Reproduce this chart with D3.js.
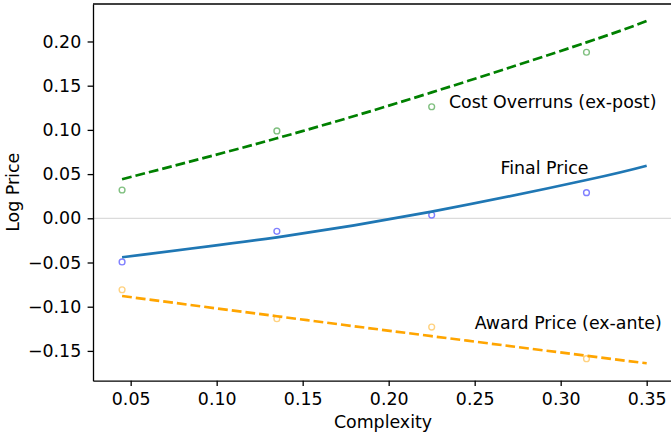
<!DOCTYPE html>
<html>
<head>
<meta charset="utf-8">
<script src="https://cdn.jsdelivr.net/npm/d3@7"></script>
<style>
  body { margin: 0; background: #fff; }
  text { font-family: "DejaVu Sans", sans-serif; }
</style>
</head>
<body>
<div id="chart"></div>
<script>
// bin means (scatter) and fitted curves
const binX = [0.045, 0.135, 0.225, 0.315];
const costPoints = [0.032, 0.0988, 0.1262, 0.1878];
const finalPoints = [-0.0494, -0.0147, 0.0037, 0.029];
const awardPoints = [-0.0808, -0.1136, -0.123, -0.1588];

const fitX = [0.045, 0.135, 0.225, 0.315, 0.35];
const costFit = [0.0442, 0.0905, 0.1424, 0.199, 0.2232];
const finalFit = [-0.0441, -0.0215, 0.0075, 0.0433, 0.0595];
const awardFit = [-0.0879, -0.1108, -0.1333, -0.1555, -0.164];

const xTicks = [0.05, 0.10, 0.15, 0.20, 0.25, 0.30, 0.35];
const yTicks = [-0.15, -0.10, -0.05, 0.00, 0.05, 0.10, 0.15, 0.20];

const labels = [
    { text: 'Cost Overruns (ex-post)', x: 0.235, y: 0.125 },
    { text: 'Final Price', x: 0.265, y: 0.05 },
    { text: 'Award Price (ex-ante)', x: 0.25, y: -0.125 }
];

const width = 671,
    height = 435;
const margin = { top: 4, right: -2, bottom: 54.3, left: 93 };
const fontSize = '17.4px';

const svg = d3.select('#chart').append('svg')
    .attr('width', width)
    .attr('height', height);

const x = d3.scaleLinear()
    .domain([0.0281, 0.3653])
    .range([margin.left, width - margin.right]);
const y = d3.scaleLinear()
    .domain([-0.1837, 0.2424])
    .range([height - margin.bottom, margin.top]);

// zero line
svg.append('line')
    .attr('x1', x.range()[0]).attr('x2', x.range()[1])
    .attr('y1', y(0)).attr('y2', y(0))
    .attr('stroke', '#d3d3d3')
    .attr('stroke-width', 1);

const series = [
    { fit: costFit, pts: costPoints, line: '#008000', dot: '#80c080', dash: '9.8,4' },
    { fit: finalFit, pts: finalPoints, line: '#1f77b4', dot: '#8080ff', dash: null },
    { fit: awardFit, pts: awardPoints, line: '#ffa500', dot: '#ffd280', dash: '9.8,4' }
];

const lineGen = d3.line()
    .x(d => x(d[0]))
    .y(d => y(d[1]))
    .curve(d3.curveNatural);

series.forEach(s => {
    svg.append('g').selectAll('circle')
        .data(binX.map((v, i) => [v, s.pts[i]]))
        .enter()
        .append('circle')
        .attr('cx', d => x(d[0]))
        .attr('cy', d => y(d[1]))
        .attr('r', 2.9)
        .attr('fill', 'none')
        .attr('stroke', s.dot)
        .attr('stroke-width', 1.4);

    svg.append('path')
        .datum(fitX.map((v, i) => [v, s.fit[i]]))
        .attr('d', lineGen)
        .attr('fill', 'none')
        .attr('stroke', s.line)
        .attr('stroke-width', 2.7)
        .attr('stroke-dasharray', s.dash);
});

svg.selectAll('.lbl')
    .data(labels)
    .enter()
    .append('text')
    .attr('class', 'lbl')
    .attr('x', d => x(d.x))
    .attr('y', d => y(d.y))
    .attr('font-size', fontSize)
    .attr('fill', '#000')
    .text(d => d.text);

const fmt = d => d3.format('.2f')(d).replace('-', '\u2212');

const xAxis = svg.append('g')
    .attr('transform', 'translate(0,' + y.range()[0] + ')')
    .call(d3.axisBottom(x).tickValues(xTicks).tickFormat(fmt).tickSize(5.4).tickPadding(6.8).tickSizeOuter(0));
const yAxis = svg.append('g')
    .attr('transform', 'translate(' + x.range()[0] + ',0)')
    .call(d3.axisLeft(y).tickValues(yTicks).tickFormat(fmt).tickSize(5.4).tickPadding(6.4).tickSizeOuter(0));

[xAxis, yAxis].forEach(a => {
    a.select('.domain').attr('stroke', '#000').attr('stroke-width', 1.3);
    a.selectAll('.tick line').attr('stroke', '#000').attr('stroke-width', 1.3);
    a.selectAll('.tick text').attr('font-size', fontSize).attr('font-family', 'DejaVu Sans').attr('fill', '#000');
});

// top spine
svg.append('line')
    .attr('x1', x.range()[0]).attr('x2', x.range()[1])
    .attr('y1', y.range()[1]).attr('y2', y.range()[1])
    .attr('stroke', '#000')
    .attr('stroke-width', 1.3);

svg.append('text')
    .attr('x', (x.range()[0] + x.range()[1]) / 2)
    .attr('y', 428)
    .attr('text-anchor', 'middle')
    .attr('font-size', fontSize)
    .text('Complexity');

svg.append('text')
    .attr('transform', 'translate(18.5,' + ((y.range()[0] + y.range()[1]) / 2) + ') rotate(-90)')
    .attr('text-anchor', 'middle')
    .attr('font-size', fontSize)
    .text('Log Price');
</script>
</body>
</html>
